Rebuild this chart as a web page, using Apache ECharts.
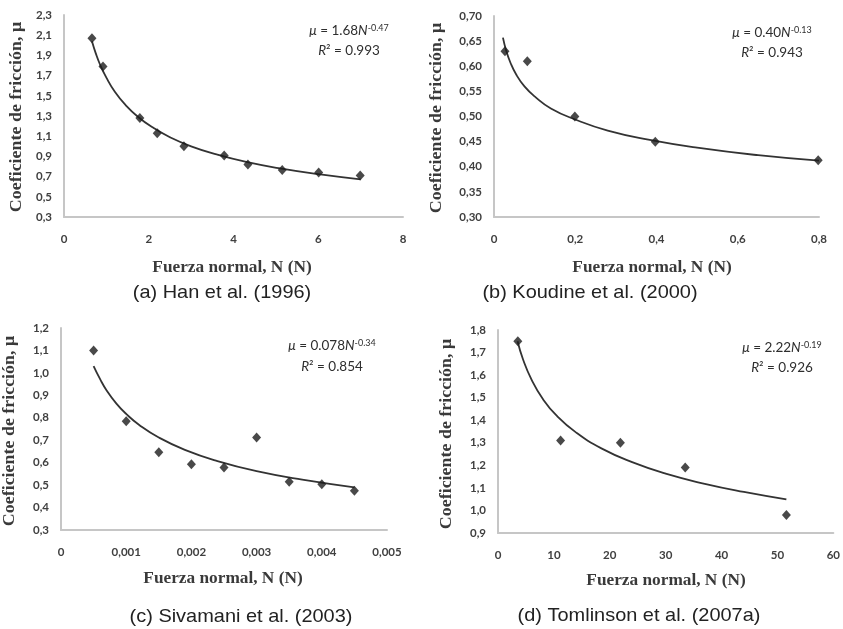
<!DOCTYPE html>
<html>
<head>
<meta charset="utf-8">
<script src="https://cdn.jsdelivr.net/npm/echarts@6/dist/echarts.min.js"></script>
<style>
html,body{margin:0;padding:0;background:#fff;}
#chart{width:843px;height:629px;}
</style>
</head>
<body>
<div id="chart"></div>
<script>
// ---------- DATA ----------
// (a) Han et al. (1996)
const fuerzaA = [0.66, 0.92, 1.79, 2.20, 2.83, 3.78, 4.34, 5.15, 6.01, 6.99];
const muA     = [2.07, 1.79, 1.28, 1.13, 1.00, 0.91, 0.82, 0.765, 0.74, 0.71];
const curveFuerzaA = [0.66, 0.75, 0.85, 1.0, 1.2, 1.45, 1.75, 2.1, 2.5, 3, 3.6, 4.3, 5.1, 6, 7];
const curveMuA     = [2.04, 1.92, 1.81, 1.68, 1.54, 1.41, 1.29, 1.185, 1.09, 1.00, 0.92, 0.846, 0.781, 0.724, 0.673];
// (b) Koudine et al. (2000)
const fuerzaB = [0.027, 0.082, 0.199, 0.397, 0.798];
const muB     = [0.63, 0.61, 0.50, 0.45, 0.413];
const curveFuerzaB = [0.022, 0.03, 0.04, 0.055, 0.075, 0.1, 0.14, 0.2, 0.28, 0.38, 0.5, 0.65, 0.8];
const curveMuB     = [0.657, 0.631, 0.608, 0.583, 0.560, 0.540, 0.516, 0.494, 0.472, 0.454, 0.438, 0.423, 0.412];
// (c) Sivamani et al. (2003)
const fuerzaC = [0.0005, 0.001, 0.0015, 0.002, 0.0025, 0.003, 0.0035, 0.004, 0.0045];
const muC     = [1.10, 0.785, 0.646, 0.593, 0.578, 0.712, 0.515, 0.504, 0.475];
const curveFuerzaC = [0.0005, 0.0006, 0.0007, 0.00085, 0.001, 0.0012, 0.0015, 0.0019, 0.0024, 0.003, 0.0037, 0.0045];
const curveMuC     = [1.03, 0.972, 0.922, 0.863, 0.817, 0.768, 0.712, 0.657, 0.607, 0.562, 0.524, 0.490];
// (d) Tomlinson et al. (2007a)
const fuerzaD = [3.55, 11.2, 21.9, 33.5, 51.6];
const muD     = [1.75, 1.31, 1.30, 1.19, 0.98];
const curveFuerzaD = [3.5, 4.5, 6, 8, 10.5, 14, 18.5, 24, 30, 37, 44, 51.6];
const curveMuD     = [1.75, 1.668, 1.58, 1.495, 1.42, 1.345, 1.275, 1.214, 1.163, 1.118, 1.082, 1.049];

// tick labels
const ticksXA = [0, 2, 4, 6, 8];
const ticksYA = [0.3, 0.5, 0.7, 0.9, 1.1, 1.3, 1.5, 1.7, 1.9, 2.1, 2.3];
const ticksXB = [0, 0.2, 0.4, 0.6, 0.8];
const ticksYB = [0.30, 0.35, 0.40, 0.45, 0.50, 0.55, 0.60, 0.65, 0.70];
const ticksXC = [0, 0.001, 0.002, 0.003, 0.004, 0.005];
const ticksYC = [0.3, 0.4, 0.5, 0.6, 0.7, 0.8, 0.9, 1.0, 1.1, 1.2];
const ticksXD = [0, 10, 20, 30, 40, 50, 60];
const ticksYD = [0.9, 1.0, 1.1, 1.2, 1.3, 1.4, 1.5, 1.6, 1.7, 1.8];

// texts
const captions = ['(a) Han et al. (1996)', '(b) Koudine et al. (2000)', '(c) Sivamani et al. (2003)', '(d) Tomlinson et al. (2007a)'];
const coefs    = ['1.68', '0.40', '0.078', '2.22'];
const exps     = ['-0.47', '-0.13', '-0.34', '-0.19'];
const r2s      = ['0.993', '0.943', '0.854', '0.926'];
const xTitle = 'Fuerza normal, N (N)';
const yTitle = 'Coeficiente de fricción, μ';

// ---------- LAYOUT ----------
const grids = [
  {left: 64,  top: 15,  width: 339, height: 202},
  {left: 494, top: 16,  width: 325, height: 201},
  {left: 61,  top: 328, width: 326, height: 202},
  {left: 498, top: 330, width: 339, height: 203}
];
const xRanges = [[0, 8], [0, 0.8], [0, 0.005], [0, 60]];
const yRanges = [[0.3, 2.3], [0.3, 0.7], [0.3, 1.2], [0.9, 1.8]];
const xTicks = [ticksXA, ticksXB, ticksXC, ticksXD];
const yTicks = [ticksYA, ticksYB, ticksYC, ticksYD];
const xDec = [0, 1, 3, 0];
const yDec = [1, 2, 1, 1];

const pts = [[fuerzaA, muA], [fuerzaB, muB], [fuerzaC, muC], [fuerzaD, muD]];
const curves = [[curveFuerzaA, curveMuA], [curveFuerzaB, curveMuB], [curveFuerzaC, curveMuC], [curveFuerzaD, curveMuD]];

function pairs(xs, ys) { return xs.map((x, i) => [x, ys[i]]); }
function fmt(d) {
  return function (v) {
    if (Math.abs(v) < 1e-12) return '0';
    return v.toFixed(d).replace('.', ',');
  };
}

const AXIS_COLOR = '#c6c6c6';
const LABEL_STYLE = {fontFamily: 'Lato', fontWeight: 'bold', fontSize: 11.5, color: '#404040'};

const xAxes = [], yAxes = [], series = [];
for (let i = 0; i < 4; i++) {
  xAxes.push({
    type: 'value', gridIndex: i, min: xRanges[i][0], max: xRanges[i][1],
    axisLine: {show: true, onZero: false, lineStyle: {color: AXIS_COLOR, width: 2}},
    axisTick: {show: false}, splitLine: {show: false},
    axisLabel: Object.assign({margin: 16, customValues: xTicks[i], formatter: fmt(xDec[i]), showMinLabel: true, showMaxLabel: true}, LABEL_STYLE)
  });
  yAxes.push({
    type: 'value', gridIndex: i, min: yRanges[i][0], max: yRanges[i][1],
    axisLine: {show: true, onZero: false, lineStyle: {color: AXIS_COLOR, width: 2}},
    axisTick: {show: false}, splitLine: {show: false},
    axisLabel: Object.assign({margin: 12, customValues: yTicks[i], formatter: fmt(yDec[i]), showMinLabel: true, showMaxLabel: true}, LABEL_STYLE)
  });
  series.push({
    type: 'line', xAxisIndex: i, yAxisIndex: i,
    data: pairs(curves[i][0], curves[i][1]),
    smooth: 0.5, showSymbol: false, symbol: 'none',
    lineStyle: {color: '#333333', width: 1.8}, z: 2, silent: true
  });
  series.push({
    type: 'scatter', xAxisIndex: i, yAxisIndex: i,
    data: pairs(pts[i][0], pts[i][1]),
    symbol: 'diamond', symbolSize: [9, 10],
    itemStyle: {color: '#1c1c1c'}, z: 3, silent: true
  });
}

// ---------- TEXT ELEMENTS ----------
const captionPos = [[222, 293], [590, 293], [241, 617], [639, 616]];
const xTitlePos  = [[232, 268], [652, 268], [223, 579], [666, 581]];
const yTitlePos  = [[17, 117], [437, 118], [10, 431], [447, 434]];
const eqPos      = [[349, 31, 51], [772, 33, 53], [332, 346, 367], [782, 348, 368]];

const graphic = [];
for (let i = 0; i < 4; i++) {
  graphic.push({
    type: 'text', x: captionPos[i][0], y: captionPos[i][1], scaleX: 1.05,
    style: {text: captions[i], fontFamily: 'Liberation Sans', fontSize: 19, fill: '#222',
            align: 'center', verticalAlign: 'middle', textAlign: 'center', textVerticalAlign: 'middle'}
  });
  graphic.push({
    type: 'text', x: xTitlePos[i][0], y: xTitlePos[i][1], scaleX: 1.08,
    style: {text: xTitle, fontFamily: 'Liberation Serif', fontWeight: 'bold', fontSize: 16, fill: '#3a3a3a',
            align: 'center', verticalAlign: 'middle', textAlign: 'center', textVerticalAlign: 'middle'}
  });
  graphic.push({
    type: 'text', x: yTitlePos[i][0], y: yTitlePos[i][1], rotation: Math.PI / 2, scaleX: 1.12,
    style: {text: yTitle, fontFamily: 'Liberation Serif', fontWeight: 'bold', fontSize: 16, fill: '#3a3a3a',
            align: 'center', verticalAlign: 'middle', textAlign: 'center', textVerticalAlign: 'middle'}
  });
  const rich = {
    n: {fontFamily: 'Lato', fontSize: 13.5, lineHeight: 15, fill: '#2e2e2e', color: '#2e2e2e'},
    i: {fontFamily: 'Lato', fontStyle: 'italic', fontSize: 13.5, lineHeight: 15, fill: '#2e2e2e', color: '#2e2e2e'},
    s: {fontFamily: 'Lato', fontSize: 9, lineHeight: 10, verticalAlign: 'top', fill: '#2e2e2e', color: '#2e2e2e'}
  };
  graphic.push({
    type: 'text', x: eqPos[i][0], y: eqPos[i][1],
    style: {text: '{i|μ}{n| = ' + coefs[i] + '}{i|N}{s|' + exps[i] + '}', rich: rich,
            align: 'center', verticalAlign: 'middle', textAlign: 'center', textVerticalAlign: 'middle'}
  });
  graphic.push({
    type: 'text', x: eqPos[i][0], y: eqPos[i][2],
    style: {text: '{i|R}{n|² = ' + r2s[i] + '}', rich: rich,
            align: 'center', verticalAlign: 'middle', textAlign: 'center', textVerticalAlign: 'middle'}
  });
}

const chart = echarts.init(document.getElementById('chart'), null, {renderer: 'canvas'});
chart.setOption({
  backgroundColor: '#ffffff',
  animation: false,
  grid: grids,
  xAxis: xAxes,
  yAxis: yAxes,
  series: series,
  graphic: graphic
});
</script>
</body>
</html>
